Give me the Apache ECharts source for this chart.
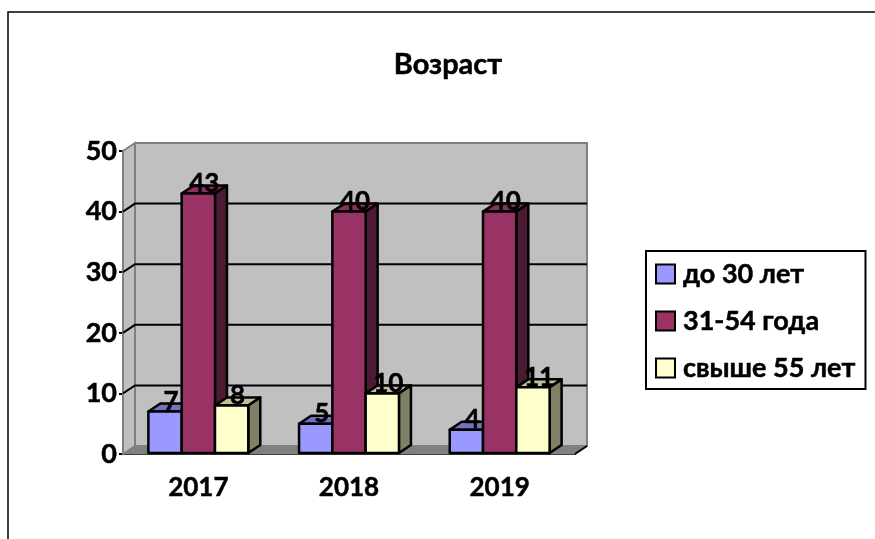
<!DOCTYPE html>
<html>
<head>
<meta charset="utf-8">
<title>Возраст</title>
<script src="https://cdn.jsdelivr.net/npm/echarts@6/dist/echarts.min.js"></script>
<style>
  html, body { margin: 0; padding: 0; background: #fff; }
  #main { width: 875px; height: 539px; }
</style>
</head>
<body>
<div id="main"></div>
<script>
var years = ['2017', '2018', '2019'];
var young = [7, 5, 4];
var middle = [43, 40, 40];
var older = [8, 10, 11];
var yTicks = [0, 10, 20, 30, 40, 50];
var seriesNames = ['до 30 лет', '31-54 года', 'свыше 55 лет'];

var fontName = 'Lato, "Open Sans", sans-serif';
// сдвиг задней стенки относительно передней плоскости, px
var depthX = 12, depthY = -8;
var barShare = 0.221;
// шрифт в оригинале жирнее, чем Lato Bold
var heavy = { textBorderColor: '#000', textBorderWidth: 0.5 };

// стенки и пол
function renderWalls(params, api) {
    var c = params.coordSys;
    var l = c.x, r = c.x + c.width, t = c.y, b = c.y + c.height;
    var grey = '#808080';
    return {
        type: 'group',
        children: [
            { type: 'polygon', shape: { points: [[l + depthX, t + depthY], [r + depthX, t + depthY], [r + depthX, b + depthY], [l + depthX, b + depthY]] },
              style: { fill: '#c0c0c0', stroke: grey, lineWidth: 2 } },
            { type: 'polygon', shape: { points: [[l, t], [l + depthX, t + depthY], [l + depthX, b + depthY], [l, b]] },
              style: { fill: '#c0c0c0', stroke: grey, lineWidth: 2 } },
            { type: 'polygon', shape: { points: [[l, b], [l + depthX, b + depthY], [r + depthX, b + depthY], [r, b]] },
              style: { fill: grey, stroke: grey, lineWidth: 1 } },
            { type: 'line', shape: { x1: r, y1: b, x2: r + depthX, y2: b + depthY },
              style: { stroke: '#000', lineWidth: 2 } }
        ]
    };
}

// линии сетки, заходят на левую стенку
function renderGrid(params, api) {
    var c = params.coordSys;
    var v = api.value(0);
    if (v === 0 || v === 50) return;
    var y = api.coord([0, v])[1];
    var l = c.x, r = c.x + c.width;
    return {
        type: 'polyline',
        shape: { points: [[l, y], [l + depthX, y + depthY], [r + depthX, y + depthY]] },
        style: { fill: 'none', stroke: '#000', lineWidth: 2 }
    };
}

function makeBarRenderer(pos, front, top, side) {
    return function (params, api) {
        var p = api.coord([api.value(0), api.value(1)]);
        var base = api.coord([api.value(0), 0]);
        var w = api.size([1, 0])[0] * barShare;
        var x0 = p[0] + (pos - 0.5) * w;
        var x1 = x0 + w;
        var y0 = p[1], y1 = base[1] - 1;
        var line = { stroke: '#000', lineWidth: 2.5, lineJoin: 'round' };
        return {
            type: 'group',
            children: [
                { type: 'polygon', shape: { points: [[x0, y0], [x0 + depthX, y0 + depthY], [x1 + depthX, y0 + depthY], [x1, y0]] },
                  style: Object.assign({ fill: top }, line) },
                { type: 'polygon', shape: { points: [[x1, y0], [x1 + depthX, y0 + depthY], [x1 + depthX, y1 + depthY], [x1, y1]] },
                  style: Object.assign({ fill: side }, line) },
                { type: 'rect', shape: { x: x0, y: y0, width: w, height: y1 - y0 },
                  style: Object.assign({ fill: front }, line) },
                { type: 'text', z2: 50, style: {
                    x: (x0 + x1) / 2 + depthX / 2, y: y0 + 3,
                    text: String(api.value(1)),
                    fill: '#000', stroke: '#000', lineWidth: 0.5,
                    font: 'bold 26px ' + fontName,
                    textAlign: 'center', textVerticalAlign: 'bottom' } }
            ]
        };
    };
}

function pairs(values) {
    return values.map(function (v, i) { return [i, v]; });
}

var chart = echarts.init(document.getElementById('main'));
chart.setOption({
    animation: false,
    backgroundColor: '#fff',
    title: {
        text: 'Возраст',
        left: 443, top: 45, textAlign: 'center',
        textStyle: Object.assign({ fontFamily: fontName, fontWeight: 'bold', fontSize: 29, color: '#000' }, heavy)
    },
    grid: { left: 123, right: 300, top: 151, bottom: 85 },
    legend: {
        orient: 'vertical',
        left: 646, top: 251,
        padding: [6, 10, 4, 9],
        borderColor: '#000', borderWidth: 2,
        itemWidth: 19, itemHeight: 19, itemGap: 13,
        icon: 'rect',
        itemStyle: { borderColor: '#000', borderWidth: 2 },
        textStyle: Object.assign({ fontFamily: fontName, fontWeight: 'bold', fontSize: 27, lineHeight: 31, color: '#000', padding: [3, 0, 0, 3] }, heavy),
        data: seriesNames
    },
    xAxis: {
        type: 'category',
        data: years,
        axisLine: { lineStyle: { color: '#000', width: 2 } },
        axisTick: { length: 5, lineStyle: { color: '#000', width: 2 } },
        axisLabel: Object.assign({ color: '#000', fontFamily: fontName, fontWeight: 'bold', fontSize: 26, margin: 21 }, heavy)
    },
    yAxis: {
        type: 'value',
        min: 0, max: 50, interval: 10,
        axisLine: { show: true, lineStyle: { color: '#000', width: 2 } },
        axisTick: { show: true, length: 4, lineStyle: { color: '#000', width: 2 } },
        splitLine: { show: false },
        axisLabel: Object.assign({ color: '#000', fontFamily: fontName, fontWeight: 'bold', fontSize: 27, margin: 6, padding: [3, 0, 0, 0] }, heavy)
    },
    graphic: [{
        type: 'rect', silent: true,
        shape: { x: 8, y: 12, width: 900, height: 600 },
        style: { fill: 'none', stroke: '#000', lineWidth: 1.5 }
    }],
    series: [
        { type: 'custom', silent: true, z: 1, data: [[0, 0]], renderItem: renderWalls, encode: { x: 0, y: 1 } },
        { type: 'custom', silent: true, z: 1, data: yTicks.map(function (t) { return [t]; }), renderItem: renderGrid, encode: { y: 0 } },
        { type: 'custom', name: seriesNames[0], z: 3, itemStyle: { color: '#9999ff' }, data: pairs(young),
          renderItem: makeBarRenderer(-1, '#9999ff', '#7373bf', '#4d4d80'), encode: { x: 0, y: 1 } },
        { type: 'custom', name: seriesNames[1], z: 3, itemStyle: { color: '#993366' }, data: pairs(middle),
          renderItem: makeBarRenderer(0, '#993366', '#8c2f5d', '#4d1a33'), encode: { x: 0, y: 1 } },
        { type: 'custom', name: seriesNames[2], z: 3, itemStyle: { color: '#ffffcc' }, data: pairs(older),
          renderItem: makeBarRenderer(1, '#ffffcc', '#bfbf99', '#808066'), encode: { x: 0, y: 1 } }
    ]
});
</script>
</body>
</html>
